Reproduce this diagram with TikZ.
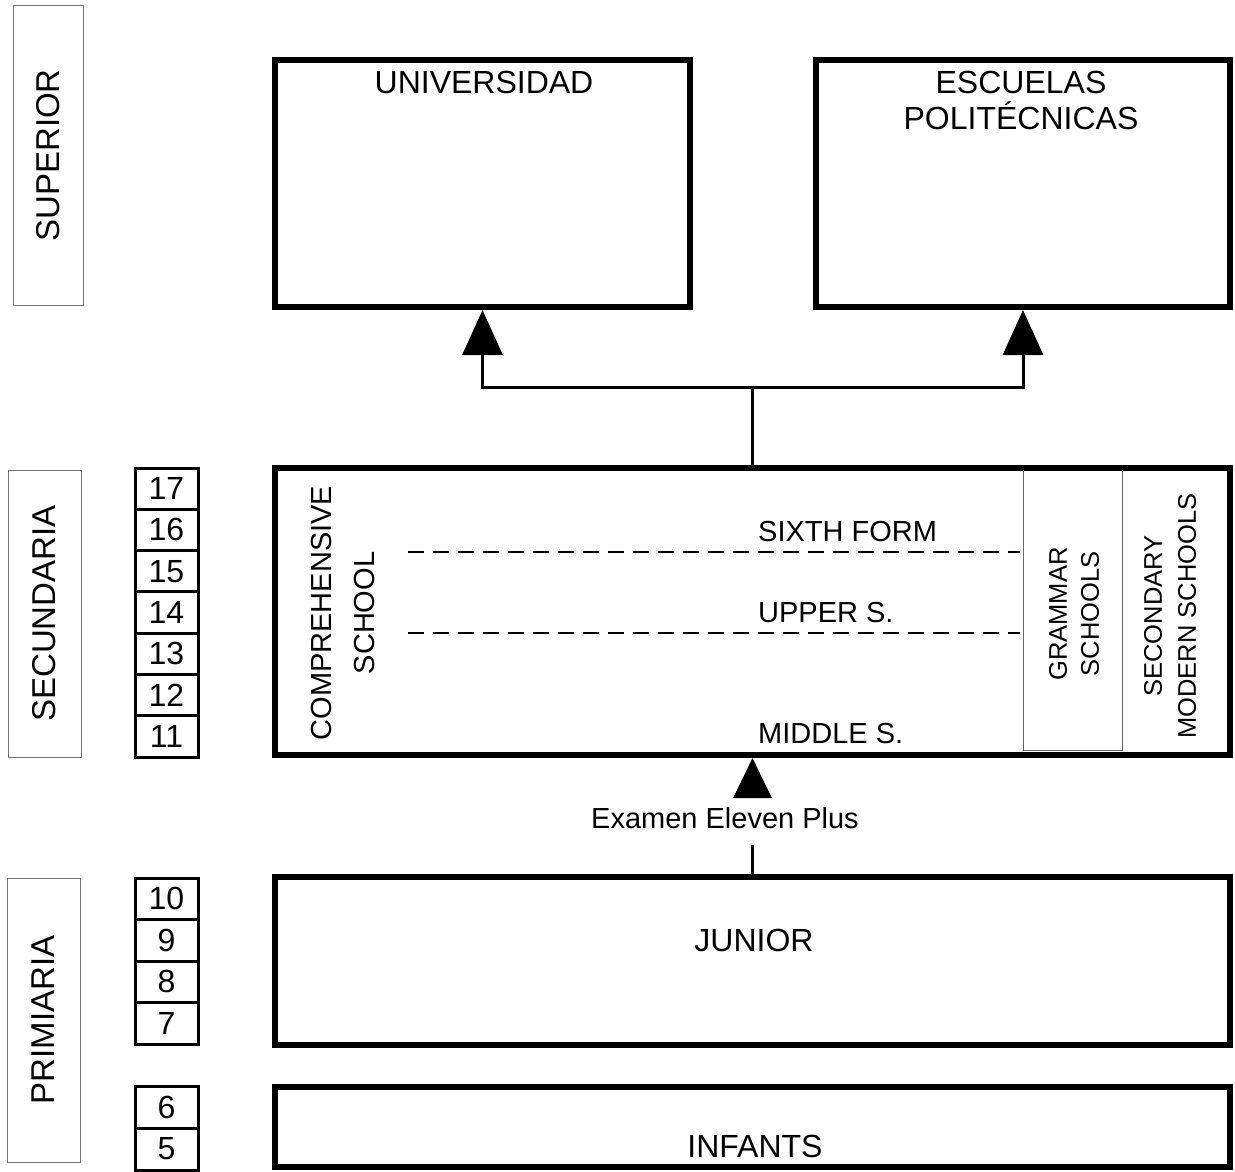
\documentclass[tikz,border=0pt]{standalone}
\usepackage{fontspec}
\setmainfont{Liberation Sans}
\usepackage{tikz}
\usetikzlibrary{arrows.meta}

\begin{document}
\begin{tikzpicture}[x=1pt, y=-1pt,
        mainbox/.style={draw, line width=6pt, inner sep=0pt},
        yearbox/.style={draw, line width=3pt, minimum width=63, minimum height=41.4,
            inner sep=0pt, font=\fontsize{32}{32}\selectfont},
        levelbox/.style={draw=black!55, line width=1pt, rotate=90, inner sep=0pt,
            font=\fontsize{33}{33}\selectfont},
        bigtext/.style={inner sep=0pt, font=\fontsize{32}{36}\selectfont},
        midtext/.style={inner sep=0pt, font=\fontsize{29}{30}\selectfont},
        sidetext/.style={inner sep=0pt, rotate=90, align=center},
        link/.style={line width=3pt},
        headup/.style={-{Triangle[width=40pt, length=45pt]}},
        stage/.style={line width=2.5pt, dash pattern=on 16pt off 9pt},
        column/.style={draw=black!60, line width=1pt}]
    \useasboundingbox (0, 0) rectangle (1235, 1172);

    \node[levelbox, minimum width=299, minimum height=70] (superior) at (48, 155.5) {SUPERIOR};
    \node[levelbox, minimum width=287, minimum height=73] (secundaria) at (44.5, 613.5) {SECUNDARIA};
    \node[levelbox, minimum width=284, minimum height=73] (primaria) at (43.5, 1020) {PRIMIARIA};

    \foreach \yr [count=\i] in {17, 16, ..., 11}
        \node[yearbox, minimum height=41.3] (yr\yr) at (166.5, {468 + 41.3*(\i - 0.5)}) {\yr};
    \foreach \yr [count=\i] in {10, 9, 8, 7}
        \node[yearbox, minimum height=41.5] (yr\yr) at (166.5, {878 + 41.5*(\i - 0.5)}) {\yr};
    \foreach \yr [count=\i] in {6, 5}
        \node[yearbox, minimum height=42] (yr\yr) at (166.5, {1086 + 42*(\i - 0.5)}) {\yr};

    \node[mainbox, minimum width=415, minimum height=247] (univ) at (482.5, 183.5) {};
    \node[mainbox, minimum width=414, minimum height=247] (poli) at (1023, 183.5) {};
    \node[mainbox, minimum width=955, minimum height=287] (secbox) at (752.5, 611.5) {};
    \node[mainbox, minimum width=955, minimum height=168] (junior) at (752.5, 961) {};
    \node[mainbox, minimum width=955, minimum height=80] (infants) at (752.5, 1127) {};

    \node[bigtext] (univtext) at (484, 82) {UNIVERSIDAD};
    \node[bigtext, align=center] (politext) at (1021, 100) {ESCUELAS\\POLITÉCNICAS};
    \node[bigtext] (juniortext) at (754, 940) {JUNIOR};
    \node[bigtext] (infantstext) at (755, 1146) {INFANTS};

    \draw[column] (1023, 470) -- (1023, 750) -- (1122, 750) -- (1122, 470);
    \draw[stage] (408, 552) -- (1020, 552);
    \draw[stage] (408, 633) -- (1020, 633);

    \node[sidetext, font=\fontsize{29}{43}\selectfont] (comp) at (343.5, 613) {COMPREHENSIVE\\SCHOOL};
    \node[sidetext, font=\fontsize{25.5}{32}\selectfont] (grammar) at (1074, 614) {GRAMMAR\\SCHOOLS};
    \node[sidetext, font=\fontsize{25.5}{34}\selectfont] (modern) at (1170, 616) {SECONDARY\\MODERN SCHOOLS};

    \node[midtext, anchor=west] (sixth) at (758, 532) {SIXTH FORM};
    \node[midtext, anchor=west] (upper) at (758, 613) {UPPER S.};
    \node[midtext, anchor=west] (middle) at (758, 734) {MIDDLE S.};

    \coordinate (fork) at (752.5, 387);
    \draw[link] (secbox.north) -- (fork);
    \draw[link, headup] (fork) -| (univ.south);
    \draw[link, headup] (fork) -| (poli.south);

    \node[midtext] (exam) at (725, 818) {Examen Eleven Plus};
    \coordinate (examfoot) at (752.5, 845);
    \coordinate (examhead) at (752.5, 796);
    \draw[link] (junior.north) -- (examfoot);
    \draw[link, -{Triangle[width=38pt, length=40pt]}] (examhead) -- (secbox.south);
\end{tikzpicture}
\end{document}
